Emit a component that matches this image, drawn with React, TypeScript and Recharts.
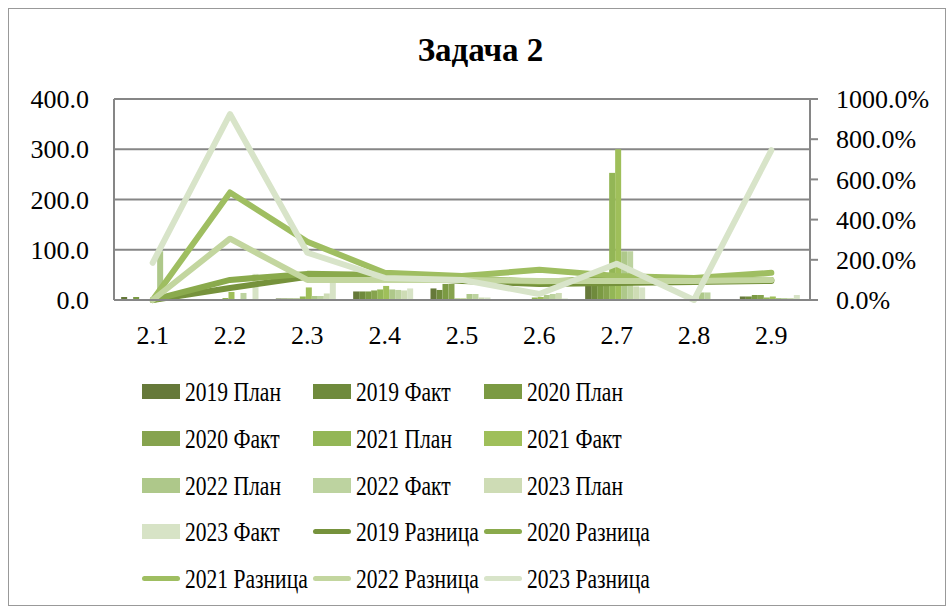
import React from "react";
import { Bar, CartesianGrid, ComposedChart, Line, XAxis, YAxis } from "recharts";

const categories = ["2.1", "2.2", "2.3", "2.4", "2.5", "2.6", "2.7", "2.8", "2.9"];

// bar series (left axis)
const plan2019 = [6, 0, 3, 17, 23, 2, 29, 0, 7];
const fact2019 = [0, 0, 3, 17, 20, 0, 29, 0, 7];
const plan2020 = [6, 0, 3, 17, 32, 2, 32, 0, 10];
const fact2020 = [0, 0, 3, 19, 32, 0, 32, 0, 10];
const plan2021 = [0, 4, 7, 21, 3, 5, 253, 0, 5];
const fact2021 = [0, 16, 25, 28, 3, 6, 300, 0, 7];
const plan2022 = [97, 0, 8, 21, 12, 10, 97, 15, 4];
const fact2022 = [0, 14, 8, 20, 12, 12, 97, 15, 4];
const plan2023 = [0, 0, 13, 19, 5, 14, 27, 0, 4];
const fact2023 = [0, 52, 50, 23, 5, 3, 25, 0, 10];

// line series, percent (right axis)
const diff2019 = [0, 60, 115, 120, 95, 80, 85, 90, 95];
const diff2020 = [0, 100, 130, 125, 110, 90, 110, 105, 100];
const diff2021 = [0, 535, 290, 135, 120, 150, 120, 110, 135];
const diff2022 = [0, 305, 100, 100, 100, 95, 95, 95, 100];
const diff2023 = [185, 925, 235, 110, 100, 30, 180, 0, 745];

const leftTicks = [0, 100, 200, 300, 400];
const rightTicks = [0, 200, 400, 600, 800, 1000];

const bars = [
  { key: "p19", name: "2019 План", values: plan2019, color: "#66793a" },
  { key: "f19", name: "2019 Факт", values: fact2019, color: "#6f8a3c" },
  { key: "p20", name: "2020 План", values: plan2020, color: "#7b9a43" },
  { key: "f20", name: "2020 Факт", values: fact2020, color: "#86a34e" },
  { key: "p21", name: "2021 План", values: plan2021, color: "#93b656" },
  { key: "f21", name: "2021 Факт", values: fact2021, color: "#9fbf5a" },
  { key: "p22", name: "2022 План", values: plan2022, color: "#aec88a" },
  { key: "f22", name: "2022 Факт", values: fact2022, color: "#bdd3a0" },
  { key: "p23", name: "2023 План", values: plan2023, color: "#cedcb5" },
  { key: "f23", name: "2023 Факт", values: fact2023, color: "#d7e3c6" },
];

const lines = [
  { key: "d19", name: "2019 Разница", values: diff2019, color: "#76923c" },
  { key: "d20", name: "2020 Разница", values: diff2020, color: "#8aaa4c" },
  { key: "d21", name: "2021 Разница", values: diff2021, color: "#9fbe61" },
  { key: "d22", name: "2022 Разница", values: diff2022, color: "#c3d69f" },
  { key: "d23", name: "2023 Разница", values: diff2023, color: "#d8e4c9" },
];

const data = categories.map((cat, i) => {
  const row: Record<string, string | number> = { cat };
  bars.forEach((b) => (row[b.key] = b.values[i]));
  lines.forEach((l) => (row[l.key] = l.values[i]));
  return row;
});

const FONT = "'Liberation Serif', serif";
const GRID = "#868686";

function LegendBox() {
  const items = [...bars.map((b) => ({ ...b, type: "bar" })), ...lines.map((l) => ({ ...l, type: "line" }))];
  const colX = [142, 313, 484];
  const rowY = [391, 438, 485, 531, 578];
  return (
    <>
      {items.map((it, i) => {
        const left = colX[i % 3];
        const cy = rowY[Math.floor(i / 3)];
        return (
          <div key={it.key} style={{ position: "absolute", left, top: cy - 20, height: 40, display: "flex", alignItems: "center" }}>
            {it.type === "bar" ? (
              <div style={{ width: 38, height: 15, background: it.color }} />
            ) : (
              <div style={{ width: 38, height: 5, borderRadius: 3, background: it.color }} />
            )}
            <span
              style={{
                display: "inline-block",
                marginLeft: 5,
                fontFamily: FONT,
                fontSize: 28,
                lineHeight: "28px",
                whiteSpace: "nowrap",
                transform: "scaleX(0.77)",
                transformOrigin: "left center",
                paddingTop: 2,
              }}
            >
              {it.name}
            </span>
          </div>
        );
      })}
    </>
  );
}

export default function App() {
  return (
    <div style={{ position: "absolute", left: 0, top: 0, width: 951, height: 610, background: "#fff", overflow: "hidden" }}>
      <div style={{ position: "absolute", left: 8, top: 8, width: 936, height: 596, border: "1px solid #999" }} />
      <div
        style={{
          position: "absolute",
          left: 0,
          width: 961,
          top: 34,
          textAlign: "center",
          fontFamily: FONT,
          fontWeight: "bold",
          fontSize: 33,
          lineHeight: "33px",
        }}
      >
        Задача 2
      </div>
      <div style={{ position: "absolute", left: 0, top: 0 }}>
        <ComposedChart
          width={951}
          height={610}
          data={data}
          margin={{ top: 99, right: 0, bottom: 260, left: 0 }}
          barCategoryGap="9.25%"
          barGap={0}
        >
          <CartesianGrid yAxisId="left" vertical={false} stroke={GRID} strokeWidth={2} />
          <XAxis
            dataKey="cat"
            interval={0}
            height={50}
            tickLine={false}
            tickSize={0}
            tickMargin={26}
            axisLine={{ stroke: GRID, strokeWidth: 2 }}
            tick={{ fill: "#000", fontFamily: FONT, fontSize: 26 }}
          />
          <YAxis
            yAxisId="left"
            width={114}
            domain={[0, 400]}
            ticks={leftTicks}
            tickFormatter={(v) => Number(v).toFixed(1)}
            tickLine={false}
            tickSize={0}
            tickMargin={25}
            axisLine={{ stroke: GRID, strokeWidth: 2 }}
            tick={{ fill: "#000", fontFamily: FONT, fontSize: 26 }}
          />
          <YAxis
            yAxisId="right"
            orientation="right"
            width={141}
            domain={[0, 1000]}
            ticks={rightTicks}
            tickFormatter={(v) => `${Number(v).toFixed(1)}%`}
            tickLine={{ stroke: GRID, strokeWidth: 2 }}
            tickSize={8}
            tickMargin={18}
            axisLine={{ stroke: GRID, strokeWidth: 2 }}
            tick={{ fill: "#000", fontFamily: FONT, fontSize: 26 }}
          />
          {bars.map((b) => (
            <Bar key={b.key} yAxisId="left" dataKey={b.key} name={b.name} fill={b.color} isAnimationActive={false} />
          ))}
          {lines.map((l) => (
            <Line
              key={l.key}
              yAxisId="right"
              dataKey={l.key}
              name={l.name}
              type="linear"
              stroke={l.color}
              strokeWidth={6}
              strokeLinecap="round"
              strokeLinejoin="round"
              dot={false}
              activeDot={false}
              isAnimationActive={false}
            />
          ))}
        </ComposedChart>
      </div>
      <LegendBox />
    </div>
  );
}
